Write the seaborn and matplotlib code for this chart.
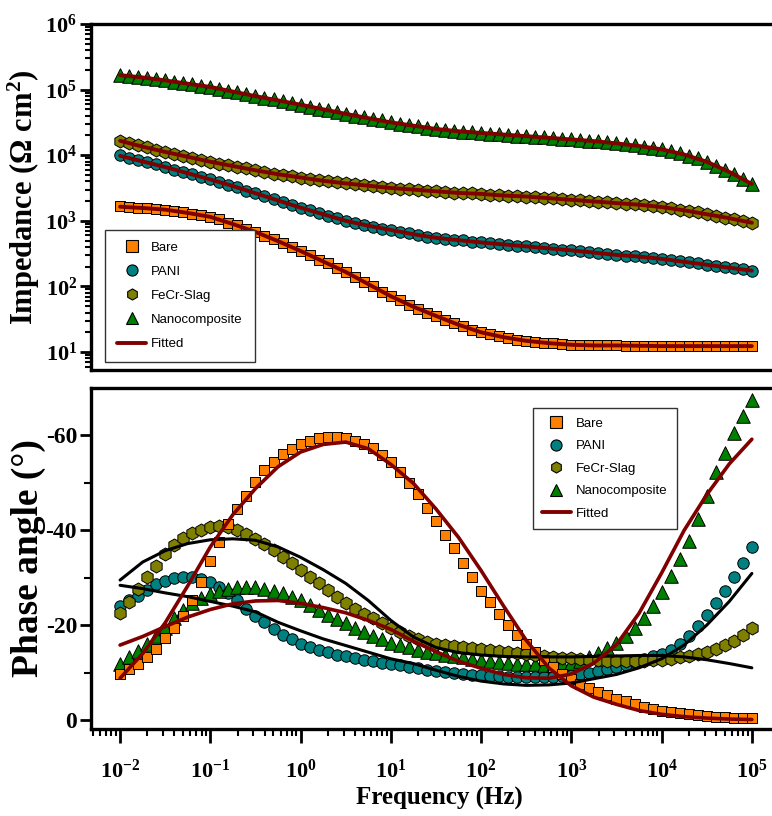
import numpy as np
import pandas as pd
import matplotlib
matplotlib.use('Agg')
import matplotlib.pyplot as plt
import seaborn as sns
from matplotlib.ticker import FixedLocator, FixedFormatter, LogLocator, NullFormatter
from matplotlib.lines import Line2D

# ---------------- data ----------------
series_names = ['Bare', 'PANI', 'FeCr-Slag', 'Nanocomposite']
fit_name = 'Fitted'

# measured frequency grid: 10 points per decade, 1e-2 .. 1e5 Hz
freq_meas = np.logspace(-2, 5, 71)
# fitted-curve grid: 4 points per decade
freq_fit = np.logspace(-2, 5, 29)

# |Z| (log10 of Ohm cm^2), measured
logz_bare = [3.22, 3.21, 3.20, 3.19, 3.18, 3.17, 3.15, 3.13, 3.11, 3.09,
             3.06, 3.02, 2.97, 2.93, 2.88, 2.83, 2.77, 2.72, 2.66, 2.60,
             2.54, 2.48, 2.41, 2.35, 2.28, 2.22, 2.14, 2.07, 2.00, 1.92,
             1.85, 1.79, 1.72, 1.66, 1.60, 1.55, 1.49, 1.44, 1.39, 1.34,
             1.30, 1.27, 1.24, 1.21, 1.19, 1.17, 1.15, 1.14, 1.13, 1.12,
             1.11, 1.11, 1.10, 1.10, 1.10, 1.10, 1.09, 1.09, 1.09, 1.09,
             1.09, 1.09, 1.09, 1.09, 1.09, 1.09, 1.09, 1.09, 1.09, 1.09, 1.09]
logz_pani = [4.00, 3.96, 3.93, 3.89, 3.86, 3.82, 3.78, 3.74, 3.71, 3.67,
             3.63, 3.59, 3.55, 3.51, 3.46, 3.42, 3.38, 3.33, 3.29, 3.24,
             3.20, 3.16, 3.12, 3.08, 3.04, 3.00, 2.97, 2.94, 2.91, 2.88,
             2.86, 2.83, 2.81, 2.78, 2.76, 2.74, 2.73, 2.71, 2.70, 2.68,
             2.67, 2.66, 2.65, 2.63, 2.62, 2.61, 2.60, 2.59, 2.57, 2.56,
             2.55, 2.54, 2.52, 2.51, 2.50, 2.48, 2.47, 2.46, 2.45, 2.43,
             2.42, 2.40, 2.38, 2.37, 2.35, 2.33, 2.31, 2.29, 2.28, 2.26, 2.24]
logz_fecr = [4.22, 4.19, 4.15, 4.12, 4.08, 4.05, 4.02, 3.99, 3.96, 3.93,
             3.90, 3.87, 3.85, 3.82, 3.80, 3.77, 3.75, 3.72, 3.70, 3.68,
             3.66, 3.64, 3.62, 3.60, 3.59, 3.57, 3.56, 3.54, 3.53, 3.51,
             3.50, 3.49, 3.48, 3.47, 3.46, 3.45, 3.44, 3.43, 3.42, 3.42,
             3.41, 3.40, 3.39, 3.38, 3.38, 3.37, 3.36, 3.35, 3.34, 3.33,
             3.32, 3.31, 3.30, 3.29, 3.28, 3.27, 3.26, 3.25, 3.24, 3.22,
             3.21, 3.19, 3.17, 3.15, 3.13, 3.10, 3.08, 3.05, 3.03, 3.00, 2.97]
logz_nano = [5.22, 5.21, 5.19, 5.18, 5.16, 5.14, 5.12, 5.10, 5.08, 5.06,
             5.04, 5.01, 4.98, 4.96, 4.93, 4.90, 4.87, 4.85, 4.82, 4.80,
             4.77, 4.74, 4.71, 4.69, 4.66, 4.63, 4.60, 4.58, 4.55, 4.53,
             4.50, 4.48, 4.46, 4.44, 4.42, 4.40, 4.39, 4.37, 4.36, 4.35,
             4.34, 4.33, 4.32, 4.31, 4.30, 4.29, 4.28, 4.27, 4.26, 4.25,
             4.24, 4.23, 4.22, 4.21, 4.20, 4.18, 4.17, 4.15, 4.13, 4.11,
             4.09, 4.06, 4.03, 3.99, 3.95, 3.90, 3.84, 3.78, 3.71, 3.64, 3.56]

# |Z| fitted (log10)
logz_fit_bare = [3.215, 3.195, 3.17, 3.12, 3.06, 2.95, 2.83, 2.69, 2.54, 2.38,
                 2.22, 2.035, 1.85, 1.69, 1.55, 1.415, 1.30, 1.225, 1.17, 1.135,
                 1.11, 1.10, 1.10, 1.095, 1.09, 1.09, 1.09, 1.09, 1.09]
logz_fit_pani = [3.99, 3.905, 3.82, 3.725, 3.63, 3.53, 3.42, 3.31, 3.20, 3.10,
                 3.00, 2.925, 2.86, 2.795, 2.74, 2.705, 2.67, 2.64, 2.61, 2.58,
                 2.55, 2.515, 2.48, 2.455, 2.42, 2.375, 2.33, 2.285, 2.24]
logz_fit_fecr = [4.22, 4.13, 4.05, 3.975, 3.90, 3.835, 3.77, 3.71, 3.66, 3.61,
                 3.57, 3.535, 3.50, 3.475, 3.45, 3.425, 3.41, 3.385, 3.37, 3.345,
                 3.32, 3.295, 3.27, 3.245, 3.21, 3.16, 3.10, 3.04, 2.97]
logz_fit_nano = [5.22, 5.185, 5.14, 5.09, 5.04, 4.97, 4.90, 4.835, 4.77, 4.70,
                 4.63, 4.565, 4.50, 4.45, 4.40, 4.365, 4.34, 4.315, 4.29, 4.265,
                 4.24, 4.215, 4.18, 4.14, 4.09, 4.01, 3.90, 3.745, 3.56]

# phase angle magnitude (degrees; plotted as negative), measured
phase_bare = [9.8, 10.8, 11.8, 13.2, 15.0, 17.3, 19.3, 22.0, 25.3, 29.0,
              33.5, 37.6, 41.3, 44.5, 47.2, 50.2, 52.7, 54.5, 56.0, 57.2,
              58.2, 58.9, 59.4, 59.7, 59.7, 59.5, 58.9, 58.2, 57.3, 55.9,
              54.4, 52.3, 49.9, 47.6, 44.8, 42.0, 39.1, 36.3, 33.2, 30.1,
              27.3, 24.8, 22.4, 20.1, 18.0, 16.1, 14.3, 12.6, 11.1, 9.8,
              8.6, 7.6, 6.7, 5.9, 5.2, 4.5, 3.9, 3.3, 2.8, 2.4,
              2.0, 1.7, 1.4, 1.2, 1.0, 0.8, 0.7, 0.6, 0.5, 0.4, 0.4]
phase_pani = [24.0, 25.2, 26.2, 27.4, 28.6, 29.4, 29.9, 30.1, 30.1, 29.8,
              29.1, 28.1, 26.8, 25.2, 23.5, 22.0, 20.6, 19.2, 18.0, 17.0,
              16.1, 15.4, 14.8, 14.3, 13.8, 13.4, 13.0, 12.7, 12.4, 12.1,
              11.8, 11.5, 11.2, 10.9, 10.6, 10.3, 10.1, 9.9, 9.7, 9.5,
              9.4, 9.3, 9.2, 9.1, 9.0, 9.0, 9.0, 9.0, 9.1, 9.2,
              9.4, 9.6, 9.9, 10.3, 10.7, 11.1, 11.6, 12.2, 12.8, 13.4,
              14.0, 14.8, 16.0, 17.8, 19.8, 22.1, 24.6, 27.2, 30.2, 33.2, 36.5]
phase_fecr = [22.5, 24.8, 27.6, 30.2, 32.5, 34.9, 36.9, 38.4, 39.4, 40.1,
              40.6, 40.9, 40.7, 40.1, 39.3, 38.2, 37.1, 35.8, 34.4, 33.0,
              31.6, 30.2, 28.8, 27.4, 26.0, 24.7, 23.4, 22.3, 21.4, 20.4,
              19.4, 18.5, 17.7, 17.0, 16.5, 16.1, 15.8, 15.5, 15.3, 15.1,
              14.9, 14.7, 14.5, 14.3, 14.1, 13.9, 13.7, 13.5, 13.3, 13.1,
              13.0, 12.8, 12.7, 12.6, 12.5, 12.5, 12.5, 12.5, 12.5, 12.6,
              12.7, 12.9, 13.2, 13.5, 13.9, 14.4, 15.0, 15.8, 16.7, 17.9, 19.4]
phase_nano = [11.9, 13.2, 14.5, 16.0, 17.8, 19.5, 21.5, 23.2, 24.6, 25.7,
              26.6, 27.3, 27.7, 28.0, 28.1, 28.0, 27.7, 27.3, 26.7, 26.0,
              25.2, 24.2, 23.2, 22.2, 21.3, 20.4, 19.5, 18.6, 17.8, 17.0,
              16.3, 15.8, 15.3, 14.8, 14.4, 14.1, 13.8, 13.5, 13.2, 12.9,
              12.7, 12.5, 12.3, 12.1, 11.9, 11.8, 11.7, 11.6, 11.6, 11.7,
              12.0, 12.5, 13.2, 14.1, 15.1, 16.3, 17.7, 19.3, 21.4, 24.0,
              27.0, 30.4, 33.9, 37.8, 42.4, 47.3, 52.3, 56.4, 60.5, 64.0, 67.5]

# phase angle fitted (degrees magnitude)
phase_fit_bare = [8.8, 14.0, 20.5, 28.3, 36.5, 43.3, 48.8, 53.4, 56.5, 58.1,
                  58.6, 57.2, 53.9, 49.9, 44.5, 38.5, 31.5, 24.0, 16.8, 11.0,
                  7.2, 4.8, 3.3, 2.0, 1.2, 0.7, 0.4, 0.2, 0.1]
phase_fit_pani = [28.4, 27.7, 26.8, 26.0, 25.0, 24.0, 22.8, 20.6, 18.8, 17.1,
                  15.7, 14.3, 12.9, 11.9, 10.5, 9.2, 8.2, 7.6, 7.3, 7.4,
                  7.8, 8.7, 9.6, 11.0, 12.9, 15.8, 20.0, 25.0, 30.9]
phase_fit_fecr = [29.5, 33.3, 35.7, 37.2, 38.0, 38.2, 37.9, 36.5, 34.3, 31.7,
                  28.8, 25.2, 21.0, 17.5, 15.3, 14.2, 13.7, 13.4, 13.3, 13.3,
                  13.3, 13.4, 13.5, 13.6, 13.6, 13.3, 12.7, 11.9, 11.0]
phase_fit_nano = [15.8, 17.6, 19.7, 21.7, 23.3, 24.5, 25.1, 25.2, 24.6, 23.7,
                  22.6, 21.0, 19.1, 16.6, 14.4, 12.4, 10.9, 9.6, 8.9, 8.8,
                  9.7, 12.0, 15.9, 22.5, 31.0, 40.0, 47.5, 54.0, 59.2]

x_tick_labels = [r'$\mathbf{10^{-2}}$', r'$\mathbf{10^{-1}}$', r'$\mathbf{10^{0}}$',
                 r'$\mathbf{10^{1}}$', r'$\mathbf{10^{2}}$', r'$\mathbf{10^{3}}$',
                 r'$\mathbf{10^{4}}$', r'$\mathbf{10^{5}}$']
z_tick_labels = [r'$\mathbf{10^{1}}$', r'$\mathbf{10^{2}}$', r'$\mathbf{10^{3}}$',
                 r'$\mathbf{10^{4}}$', r'$\mathbf{10^{5}}$', r'$\mathbf{10^{6}}$']
phase_tick_labels = ['0', '-20', '-40', '-60']

# ---------------- style ----------------
sns.set_style('ticks')
plt.rcParams['font.family'] = ['Liberation Serif', 'DejaVu Serif']
plt.rcParams['mathtext.fontset'] = 'custom'
plt.rcParams['mathtext.rm'] = 'Liberation Serif:bold'
plt.rcParams['mathtext.bf'] = 'Liberation Serif:bold'
plt.rcParams['mathtext.it'] = 'Liberation Serif:bold'
plt.rcParams['mathtext.default'] = 'bf'
plt.rcParams['axes.unicode_minus'] = False
for key in ('text.color', 'axes.labelcolor', 'xtick.color', 'ytick.color',
            'axes.edgecolor'):
    plt.rcParams[key] = 'black'

colors = {'Bare': '#FF8000', 'PANI': '#008080', 'FeCr-Slag': '#808000',
          'Nanocomposite': '#008000'}
markers = {'Bare': 's', 'PANI': 'o', 'FeCr-Slag': 'h', 'Nanocomposite': '^'}
sizes = {'Bare': 62, 'PANI': 68, 'FeCr-Slag': 88, 'Nanocomposite': 95}
fit_red = '#800000'
draw_order = ['PANI', 'Nanocomposite', 'FeCr-Slag', 'Bare']

meas_z = {'Bare': logz_bare, 'PANI': logz_pani, 'FeCr-Slag': logz_fecr,
          'Nanocomposite': logz_nano}
fit_z = {'Bare': logz_fit_bare, 'PANI': logz_fit_pani, 'FeCr-Slag': logz_fit_fecr,
         'Nanocomposite': logz_fit_nano}
meas_p = {'Bare': phase_bare, 'PANI': phase_pani, 'FeCr-Slag': phase_fecr,
          'Nanocomposite': phase_nano}
fit_p = {'Bare': phase_fit_bare, 'PANI': phase_fit_pani, 'FeCr-Slag': phase_fit_fecr,
         'Nanocomposite': phase_fit_nano}
fit_p_color = {'Bare': fit_red, 'PANI': 'black', 'FeCr-Slag': 'black',
               'Nanocomposite': fit_red}

W, H = 772, 816
fig = plt.figure(figsize=(W / 100, H / 100), dpi=100)
ax_l, ax_r = 91, 800
ax1 = fig.add_axes([ax_l / W, 1 - 370 / H, (ax_r - ax_l) / W, (370 - 24) / H])
ax2 = fig.add_axes([ax_l / W, 1 - 729 / H, (ax_r - ax_l) / W, (729 - 388) / H])

xmin, xmax = 10 ** (-2 - 29 / 90), 10 ** (5 + 48 / 90)

# ---------- top panel: impedance ----------
for name in draw_order:
    sns.scatterplot(x=freq_meas, y=10 ** np.array(meas_z[name]), ax=ax1,
                    marker=markers[name], color=colors[name], s=sizes[name],
                    edgecolor='black', linewidth=0.7, zorder=2, legend=False)
for name in draw_order:
    sns.lineplot(x=freq_fit, y=10 ** np.array(fit_z[name]), ax=ax1,
                 color=fit_red, linewidth=2.8, zorder=3, legend=False)

ax1.set_xscale('log')
ax1.set_yscale('log')
ax1.set_xlim(xmin, xmax)
ax1.set_ylim(10 ** (1 - 18 / 65.6), 1e6)
ax1.yaxis.set_major_locator(FixedLocator([1e1, 1e2, 1e3, 1e4, 1e5, 1e6]))
ax1.yaxis.set_major_formatter(FixedFormatter(z_tick_labels))
ax1.yaxis.set_minor_locator(LogLocator(base=10, subs=np.arange(2, 10), numticks=20))
ax1.yaxis.set_minor_formatter(NullFormatter())
ax1.tick_params(axis='x', which='both', bottom=False, labelbottom=False)
ax1.tick_params(axis='y', which='major', length=8, width=2, labelsize=16, pad=2)
ax1.tick_params(axis='y', which='minor', length=4, width=1.5)
ax1.set_ylabel('Impedance (Ω cm$^{2}$)', fontsize=22, fontweight='bold')
ax1.yaxis.set_label_coords(-0.069, 0.5)

# ---------- bottom panel: phase ----------
for name in draw_order:
    sns.scatterplot(x=freq_meas, y=-np.array(meas_p[name]), ax=ax2,
                    marker=markers[name], color=colors[name], s=sizes[name],
                    edgecolor='black', linewidth=0.7, zorder=2, legend=False)
for name in ['PANI', 'FeCr-Slag', 'Nanocomposite', 'Bare']:
    sns.lineplot(x=freq_fit, y=-np.array(fit_p[name]), ax=ax2,
                 color=fit_p_color[name], linewidth=2.6 if fit_p_color[name] == fit_red else 2.2,
                 zorder=3, legend=False)

ax2.set_xscale('log')
ax2.set_xlim(xmin, xmax)
ax2.set_ylim(1.9, -70)
ax2.yaxis.set_major_locator(FixedLocator([0, -20, -40, -60]))
ax2.yaxis.set_major_formatter(FixedFormatter(phase_tick_labels))
ax2.yaxis.set_minor_locator(FixedLocator([-10, -30, -50]))
ax2.xaxis.set_major_locator(FixedLocator([1e-2, 1e-1, 1e0, 1e1, 1e2, 1e3, 1e4, 1e5]))
ax2.xaxis.set_major_formatter(FixedFormatter(x_tick_labels))
ax2.xaxis.set_minor_locator(LogLocator(base=10, subs=np.arange(2, 10), numticks=20))
ax2.xaxis.set_minor_formatter(NullFormatter())
ax2.tick_params(axis='x', which='major', length=10, width=2, labelsize=16, pad=12)
ax2.tick_params(axis='y', which='major', length=8, width=2, labelsize=17, pad=2)
ax2.tick_params(axis='both', which='minor', length=5, width=1.5)
ax2.set_ylabel('Phase angle (°)', fontsize=27, fontweight='bold')
ax2.yaxis.set_label_coords(-0.064, 0.5)
ax2.set_xlabel('Frequency (Hz)', fontsize=18, fontweight='bold')
ax2.xaxis.set_label_coords(0.492, -0.17)

for ax in (ax1, ax2):
    for side in ('left', 'top', 'bottom'):
        ax.spines[side].set_linewidth(2.4)
        ax.spines[side].set_color('black')
    ax.spines['right'].set_visible(False)
    for lab in ax.get_yticklabels():
        lab.set_fontweight('bold')

# ---------- legends ----------
handles = [Line2D([], [], linestyle='none', marker=markers[n], markersize=8,
                  markerfacecolor=colors[n], markeredgecolor='black',
                  markeredgewidth=0.8) for n in series_names]
handles.append(Line2D([], [], color=fit_red, linewidth=2.8))
labels = series_names + [fit_name]
leg_kw = dict(frameon=True, fancybox=False, edgecolor='#333333', framealpha=1,
              prop={'family': 'Liberation Sans', 'size': 9.5},
              handlelength=2.2, handletextpad=0.4, borderaxespad=0)
leg1 = ax1.legend(handles, labels, loc='lower left', bbox_to_anchor=(0.02, 0.023),
                  labelspacing=0.9, borderpad=0.9, **leg_kw)
leg1.get_frame().set_linewidth(1.0)
leg2 = ax2.legend(handles, labels, loc='upper left', bbox_to_anchor=(0.623, 0.941),
                  labelspacing=0.78, borderpad=0.7, **leg_kw)
leg2.get_frame().set_linewidth(1.0)

fig.savefig('out.png', dpi=100)
